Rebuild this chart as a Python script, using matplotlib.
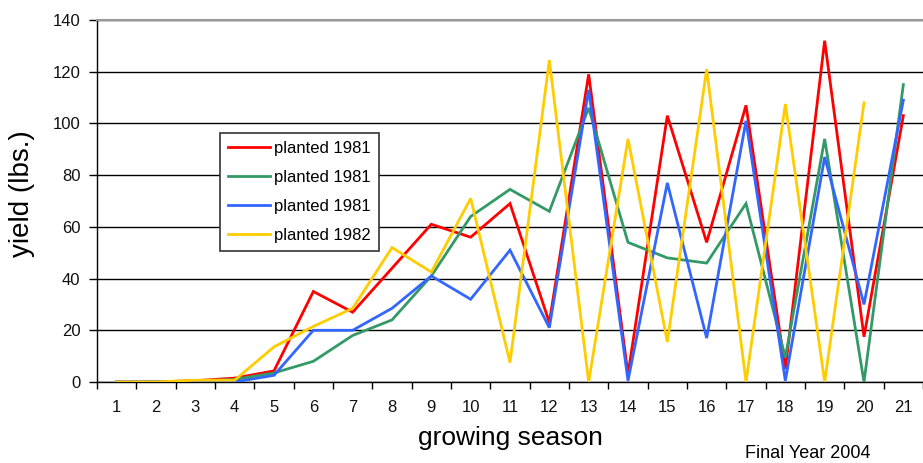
import matplotlib
matplotlib.use("Agg")
import matplotlib.pyplot as plt
import numpy as np

plt.rcParams['font.family'] = ['Liberation Sans', 'DejaVu Sans']

seasons = list(range(1, 22))
labels = ["planted 1981", "planted 1981", "planted 1981", "planted 1982"]
red = [0, 0, 0.5, 1.5, 4.3, 35, 27, 44, 61, 56, 69, 23, 119, 3, 103, 54, 107, 5, 132, 17.5, 103]
green = [0, 0, 0.3, 1, 3.5, 8, 18, 24, 41, 64, 74.5, 66, 106, 54, 48, 46, 69, 9.5, 94, 0, 115]
blue = [0, 0, 0.2, 0, 2.6, 20, 20, 28.5, 41, 32, 51, 21, 113, 0.5, 77, 17, 101, 0.5, 87, 30, 109]
yellow = [0, 0, 0.7, 0.7, 13.6, 21.5, 28.5, 52, 42.5, 71, 7.5, 124.5, 0, 94, 15.5, 121, 0, 107.5, 0, 108, np.nan]
yticks = [0, 20, 40, 60, 80, 100, 120, 140]

W, H = 923, 463
fig = plt.figure(figsize=(W / 100, H / 100), dpi=100)
ax = fig.add_axes([97 / W, 1 - 382 / H, (923 - 97) / W, (382 - 20) / H])

series = [red, green, blue, yellow]
colors = ["#FF0000", "#339966", "#3366FF", "#FFCC00"]
for vals, c, lab in zip(series, colors, labels):
    ax.plot(seasons, vals, color=c, lw=2.0, label=lab, solid_joinstyle='miter', zorder=3)

ax.set_xlim(0.5, 21.5)
ax.set_ylim(0, 140)
ax.set_yticks(yticks)
ax.set_xticks(seasons)
ax.set_xticks(np.arange(0.5, 22, 1), minor=True)
ax.tick_params(axis='x', which='major', length=0, labelsize=12, pad=13)
ax.tick_params(axis='x', which='minor', length=5, width=1, direction='out', color='black')
ax.tick_params(axis='y', length=6, width=1, direction='out', labelsize=12, pad=6)
for lab in ax.get_xticklabels() + ax.get_yticklabels():
    lab.set_color('#111111')

ax.grid(axis='y', color='black', lw=1, zorder=1)
for s in ['left', 'bottom']:
    ax.spines[s].set_color('black')
    ax.spines[s].set_linewidth(1)
ax.spines['top'].set_color('#999999')
ax.spines['top'].set_linewidth(1.5)
ax.spines['right'].set_visible(False)

ax.set_xlabel("growing season", fontsize=19, labelpad=8)
ax.set_ylabel("yield (lbs.)", fontsize=20, labelpad=12)
ax.yaxis.set_label_coords(-62 / (923 - 97), 0.52)

leg = ax.legend(loc='upper left', bbox_to_anchor=((220 - 97) / (923 - 97), 1 - (133 - 20) / (382 - 20)),
                fontsize=12, frameon=True, fancybox=False, edgecolor='#333333',
                handlelength=2.5, handletextpad=0.25, labelspacing=0.83, borderpad=0.5,
                borderaxespad=0, framealpha=1)
leg.get_frame().set_linewidth(1.2)

fig.text(745 / W, 1 - 462 / H, "Final Year 2004", fontsize=13, va='bottom', ha='left')

fig.savefig("out.png", dpi=100)
